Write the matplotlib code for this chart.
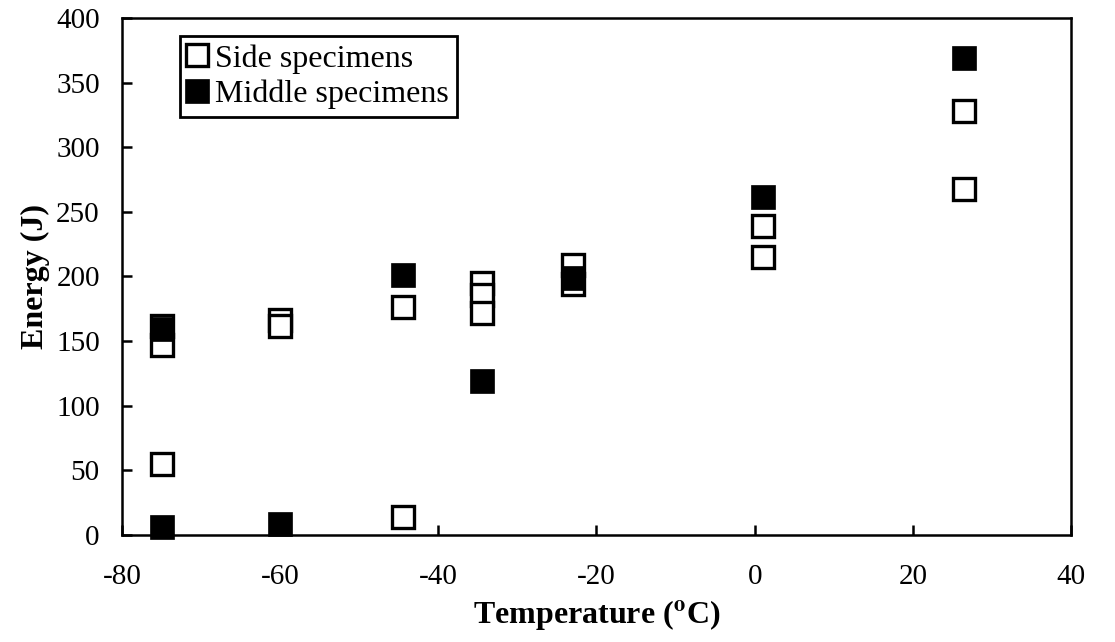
import matplotlib
matplotlib.use('Agg')
import matplotlib.pyplot as plt

plt.rcParams['font.family'] = ['Liberation Serif', 'DejaVu Serif']
plt.rcParams['mathtext.fontset'] = 'stix'
plt.rcParams['axes.unicode_minus'] = False

# Side specimens (open squares)
side_temp = [-75, -75, -75, -60, -60, -44.5, -44.5, -34.5, -34.5, -34.5, -23, -23, 1, 1, 26.5, 26.5]
side_energy = [162, 147, 55, 166, 162, 176, 14, 195, 186, 172, 209, 194, 239, 215, 328, 268]

# Middle specimens (filled squares)
mid_temp = [-75, -75, -60, -44.5, -34.5, -23, 1, 26.5]
mid_energy = [159, 6, 8.5, 201, 119.5, 199, 261.5, 369]

fig = plt.figure(figsize=(11.15, 6.42), dpi=100)
ax = fig.add_axes([0.1094, 0.1667, 0.8511, 0.8053])

ax.plot(side_temp, side_energy, linestyle='none', marker='s', markersize=15.5,
        markerfacecolor='white', markeredgecolor='black', markeredgewidth=2.4,
        label='Side specimens', clip_on=False, zorder=3)
ax.plot(mid_temp, mid_energy, linestyle='none', marker='s', markersize=17,
        markerfacecolor='black', markeredgecolor='black', markeredgewidth=0.5,
        label='Middle specimens', clip_on=False, zorder=4)

ax.set_xlim(-80, 40)
ax.set_ylim(0, 400)
ax.set_xticks(range(-80, 41, 20))
ax.set_yticks(range(0, 401, 50))
ax.tick_params(direction='in', length=7, width=1.8, labelsize=21)
ax.tick_params(axis='x', pad=21)
ax.tick_params(axis='y', pad=16)
for s in ax.spines.values():
    s.set_linewidth(1.8)

ax.set_xlabel(r'Temperature ($\mathbf{^{o}}$C)', fontsize=23, fontweight='bold', labelpad=6)
ax.set_ylabel('Energy (J)', fontsize=23, fontweight='bold', labelpad=4)

leg = ax.legend(loc='upper left', bbox_to_anchor=(0.061, 0.965), borderaxespad=0,
                fontsize=23, handlelength=0.6, handletextpad=0.25, borderpad=0.25,
                labelspacing=0.2, fancybox=False, edgecolor='black', framealpha=1,
                markerscale=1.0)
leg.get_frame().set_linewidth(2)

fig.savefig('out.png', dpi=100)
